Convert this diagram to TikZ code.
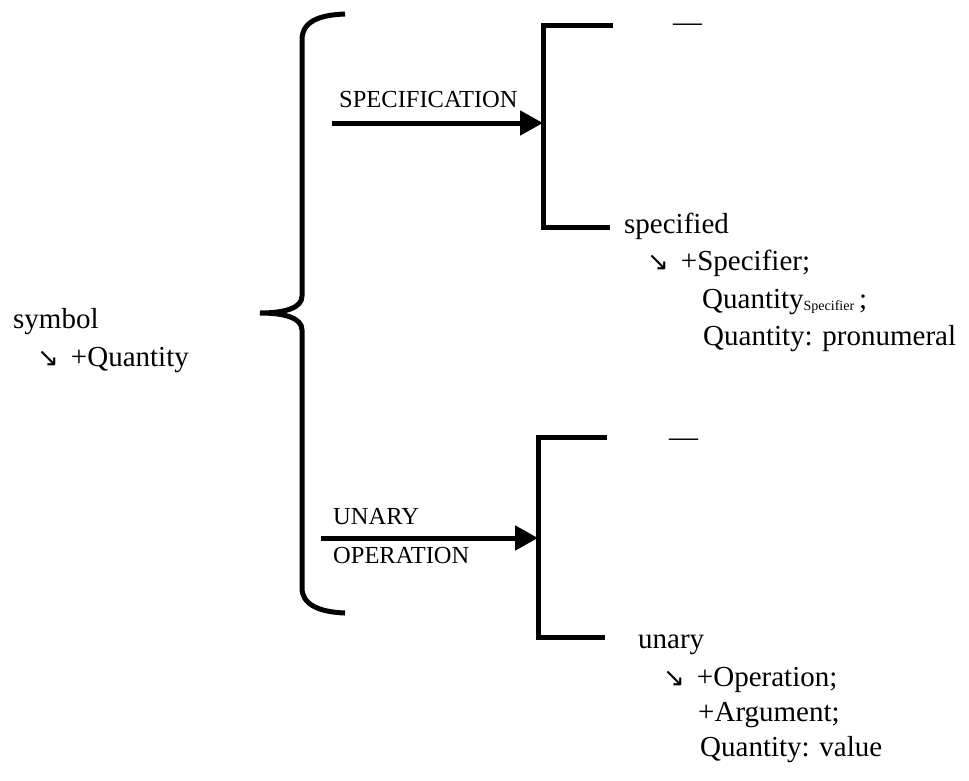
\documentclass[tikz,border=0pt]{standalone}
\usepackage{fontspec}
\setmainfont{Liberation Serif}
\newfontfamily\serfont{Liberation Serif}
\newfontfamily\arrfont{DejaVu Sans}
\usetikzlibrary{arrows.meta}
\newcommand{\sarr}{{\arrfont\fontsize{26}{26}\selectfont ↘}}
\tikzset{bar/.style={line width=5pt},txt/.style={anchor=base west,inner sep=0pt,font=\serfont\fontsize{29}{33}\selectfont},lab/.style={anchor=base west,inner sep=0pt,font=\serfont\fontsize{24.5}{27}\selectfont},conn/.style={bar,-{Triangle[length=23pt,width=24pt]}}}
\begin{document}
\begin{tikzpicture}[x=1pt,y=-1pt]
\useasboundingbox(0,0)rectangle(969,780);
\draw[bar](345,14)..controls(318,15)and(302,22)..(302,40)--(302,296)..controls(302,308)and(285,313)..(260,313)..controls(285,313)and(302,318)..(302,330)--(302,588)..controls(302,604)and(318,612)..(345,613);
\coordinate(stop)at(613,25);\coordinate(sup1)at(543,25);\coordinate(slo1)at(543,227);\coordinate(sbot)at(610,227);
\draw[bar](stop)--(sup1)--(slo1)--(sbot);
\coordinate(utop)at(607,437);\coordinate(uup1)at(538,437);\coordinate(ulo1)at(538,637);\coordinate(ubot)at(605,637);
\draw[bar](utop)--(uup1)--(ulo1)--(ubot);
\coordinate(sfrom)at(332,123);\coordinate(sto)at(543,123);\draw[conn](sfrom)--(sto);
\coordinate(ufrom)at(321,538);\coordinate(uto)at(538,538);\draw[conn](ufrom)--(uto);
\node[lab](speclab)at(339,107){SPECIFICATION};
\node[lab](unlab)at(333,524){UNARY};\node[lab](oplab)at(333,563){OPERATION};
\node[txt](sym)at(13,328){symbol};\node[txt](symq)at(37,366){\sarr\hspace{12pt}+Quantity};
\node[txt](sdash)at(673,31){—};\node[txt](udash)at(669,446){—};
\node[txt](spec)at(624,233){specified};\node[txt](spec1)at(647,270){\sarr\hspace{12pt}+Specifier;};
\node[txt](spec2)at(702,308){Quantity\raisebox{-2pt}{\fontsize{14}{14}\selectfont Specifier}\,;};\node[txt](spec3)at(703,345){Quantity: pronumeral};
\node[txt](un)at(638,648){unary};\node[txt](un1)at(663,686){\sarr\hspace{12pt}+Operation;};
\node[txt](un2)at(698,721){+Argument;};\node[txt](un3)at(700,756){Quantity: value};
\end{tikzpicture}
\end{document}
